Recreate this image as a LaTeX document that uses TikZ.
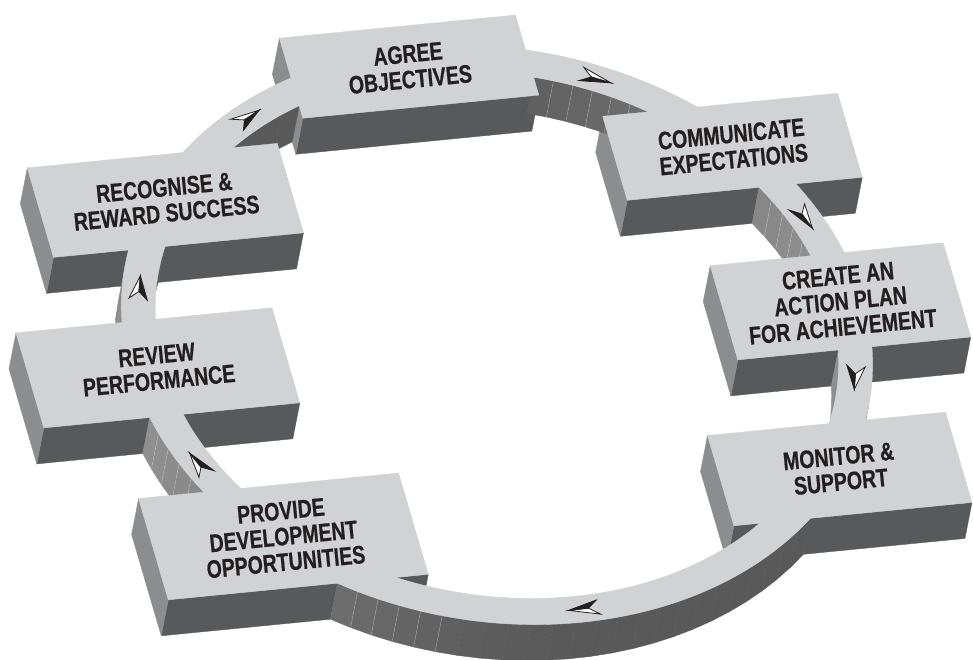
\documentclass[tikz,border=0pt]{standalone}
\usepackage{fontspec}
\newfontfamily\stagefont[FakeStretch=0.77, BoldFeatures={FakeBold=0.6}]{Liberation Sans}
\usepackage{tikz}

\definecolor{topgray}{HTML}{D1D2D4}
\definecolor{frontgray}{HTML}{58595B}
\definecolor{sidegray}{HTML}{8C8D8F}
\definecolor{inkblack}{HTML}{231F20}

\tikzset{topface/.style={fill=topgray, draw=topgray, line width=0.2pt}}
\tikzset{frontface/.style={fill=frontgray, draw=frontgray, line width=0.2pt}}
\tikzset{sideface/.style={fill=sidegray, draw=sidegray, line width=0.2pt}}
\tikzset{seam/.style={draw=white, draw opacity=0.35, line width=0.3pt}}
\tikzset{stage/.style={font=\stagefont\bfseries\fontsize{14.4}{14.6}\selectfont,
  text=inkblack, align=center, rotate=5.6, inner sep=0pt}}

% slab height and ring radii, 1 unit = 10px
\newcommand\slab{3.6}
\newcommand\rin{33.3}
\newcommand\rout{36.6}
\newcommand\rmid{34.95}

% top of a block: x from, x to, y from, y to
\newcommand\blocktop[4]{\path[topface] (#1,#3,0) -- (#2,#3,0) -- (#2,#4,0) -- (#1,#4,0) -- cycle;}
% front wall piece: x from, x to, y
\newcommand\frontwall[3]{\path[frontface] (#1,#3,0) -- (#2,#3,0) -- (#2,#3,-\slab) -- (#1,#3,-\slab) -- cycle;}
% left wall piece: x, y from, y to
\newcommand\leftwall[3]{\path[sideface] (#1,#2,0) -- (#1,#3,0) -- (#1,#3,-\slab) -- (#1,#2,-\slab) -- cycle;}

% curved wall of the ring: radius, side (1 outer, -1 inner), from, to, seams
\newcommand\ringwall[5]{%
  \pgfmathtruncatemacro\nfac{max(1,round(abs(#4-#3)/3.5))}
  \foreach \i in {1,...,\nfac}{
    \pgfmathsetmacro\wa{#3+(#4-#3)*(\i-1)/\nfac}
    \pgfmathsetmacro\wb{#3+(#4-#3)*\i/\nfac}
    \pgfmathsetmacro\wallnx{#2*cos((\wa+\wb)/2)}
    \pgfmathsetmacro\walltone{\wallnx<0 ? 65-22*(\wallnx)*(\wallnx) : 65}
    \path[fill=black!\walltone, draw=black!\walltone, line width=0.2pt]
      ({#1*cos(\wa)},{#1*sin(\wa)},0) -- ({#1*cos(\wb)},{#1*sin(\wb)},0)
      -- ({#1*cos(\wb)},{#1*sin(\wb)},-\slab) -- ({#1*cos(\wa)},{#1*sin(\wa)},-\slab) -- cycle;
    \ifnum#5=1 \ifnum\i>1
      \draw[seam] ({#1*cos(\wa)},{#1*sin(\wa)},0) -- ({#1*cos(\wa)},{#1*sin(\wa)},-\slab);
    \fi\fi
  }}

% flow arrow lying on the ring, pointing clockwise
\newcommand\flowarrow[1]{%
  \pgfmathsetmacro\arrc{cos(#1)}
  \pgfmathsetmacro\arrs{sin(#1)}
  \coordinate (tip)   at ({\rmid*\arrc+1.5*\arrs}, {\rmid*\arrs-1.5*\arrc}, 0);
  \coordinate (barbi) at ({(\rmid-0.9)*\arrc-1.5*\arrs}, {(\rmid-0.9)*\arrs+1.5*\arrc}, 0);
  \coordinate (barbo) at ({(\rmid+0.9)*\arrc-1.5*\arrs}, {(\rmid+0.9)*\arrs+1.5*\arrc}, 0);
  \coordinate (notch) at ({\rmid*\arrc-0.5*\arrs}, {\rmid*\arrs+0.5*\arrc}, 0);
  \filldraw[fill=white, draw=inkblack, line width=0.45pt] (tip) -- (barbo) -- (notch) -- cycle;
  \filldraw[fill=inkblack, draw=inkblack, line width=0.45pt] (tip) -- (barbi) -- (notch) -- cycle;
}

\begin{document}
\begin{tikzpicture}
\fill[white] (0,0) rectangle (19.46,-13.18);
\useasboundingbox (0,0) rectangle (19.46,-13.18);
\begin{scope}[shift={(9.94cm,-6.7cm)},
  x={(0.2cm,0.0196cm)}, y={(-0.046cm,0.157cm)}, z={(0.0388cm,0.2cm)}]

% back blocks
\frontwall{-12.7}{10.9}{29.2}
\leftwall{-12.7}{29.2}{30.78}
\leftwall{-12.7}{34.33}{39.4}
\frontwall{16.5}{29.68}{15.1}
\frontwall{33.34}{40.0}{15.1}
\leftwall{16.5}{15.1}{25.8}
\frontwall{22.7}{32.76}{-6}
\frontwall{36.1}{46.0}{-6}
\leftwall{22.7}{-6}{6}
\frontwall{-40.9}{-33.38}{15}
\frontwall{-29.73}{-15.9}{15}
\leftwall{-40.9}{15}{26.4}

% inner wall of the ring
\ringwall{\rin}{-1}{-21.3}{-10.38}{0}
\ringwall{\rin}{-1}{10.38}{26.96}{1}
\ringwall{\rin}{-1}{50.8}{70.9}{1}
\ringwall{\rin}{-1}{112.42}{127.56}{0}
\ringwall{\rin}{-1}{153.23}{158.7}{0}

% front blocks
\frontwall{-46.7}{-36.1}{-6}
\frontwall{-32.76}{-21.1}{-6}
\leftwall{-46.7}{-6}{6.1}
\frontwall{-39.5}{-22.59}{-28.8}
\frontwall{-16.72}{-13.5}{-28.8}
\leftwall{-39.5}{-28.8}{-15.9}
\frontwall{17.6}{20.17}{-26.5}
\frontwall{25.24}{41.4}{-26.5}
\leftwall{17.6}{-26.5}{-15}

% outer wall of the ring
\ringwall{\rout}{1}{158.7}{170.41}{0}
\ringwall{\rout}{1}{189.42}{205.74}{1}
\ringwall{\rout}{1}{231.9}{252}{1}
\ringwall{\rout}{1}{252}{313.6}{0}
\ringwall{\rout}{1}{335.8}{338.7}{0}

% tops
\path[topface, even odd rule] (0,0,0) circle (\rout) (0,0,0) circle (\rin);
\blocktop{-12.7}{10.9}{29.2}{39.4}
\blocktop{16.5}{40.0}{15.1}{25.8}
\blocktop{22.7}{46.0}{-6}{6}
\blocktop{17.6}{41.4}{-26.5}{-15}
\blocktop{-39.5}{-13.5}{-28.8}{-15.9}
\blocktop{-46.7}{-21.1}{-6}{6.1}
\blocktop{-40.9}{-15.9}{15}{26.4}

% arrows
\foreach \t in {61,18,-16,-89,200.6,163,121}{\flowarrow{\t}}

% labels
\node[stage] (agree) at (-0.9,34.3,0) {AGREE\\OBJECTIVES};
\node[stage] (communicate) at (28.25,20.45,0) {COMMUNICATE\\EXPECTATIONS};
\node[stage] (actionplan) at (34.35,0,0) {CREATE AN\\ACTION PLAN\\FOR ACHIEVEMENT};
\node[stage] (monitor) at (29.5,-20.75,0) {MONITOR \&\\SUPPORT};
\node[stage] (provide) at (-26.5,-22.35,0) {PROVIDE\\DEVELOPMENT\\OPPORTUNITIES};
\node[stage] (review) at (-33.9,0.05,0) {REVIEW\\PERFORMANCE};
\node[stage] (recognise) at (-28.4,20.7,0) {RECOGNISE \&\\REWARD SUCCESS};
\end{scope}
\end{tikzpicture}
\end{document}
